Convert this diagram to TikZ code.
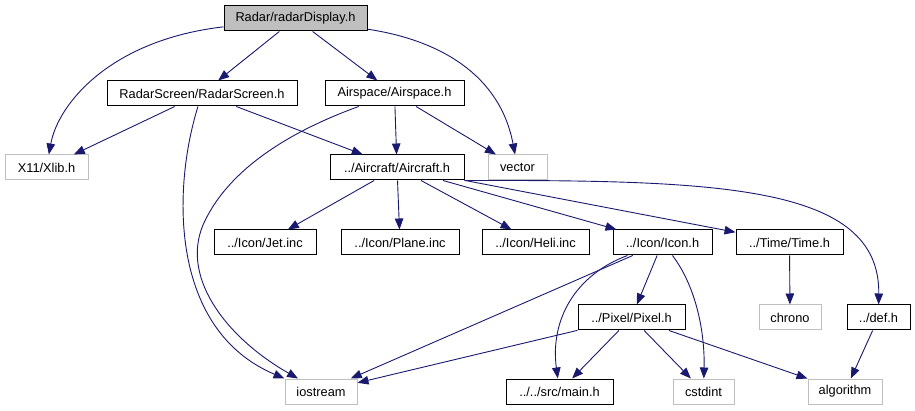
\documentclass[tikz,border=0pt]{standalone}
\usepackage{fontspec}
\setmainfont{Liberation Sans}
\usetikzlibrary{arrows.meta}
\definecolor{edgeblue}{RGB}{25,25,112}
\definecolor{extgray}{RGB}{191,191,191}
\definecolor{mainfill}{RGB}{191,191,191}
\tikzset{
  filebox/.style={draw=black, fill=white, line width=1pt, inner sep=0pt, minimum height=25pt, font=\fontsize{12.8}{15}\selectfont},
  extbox/.style={draw=extgray, fill=white, line width=1pt, inner sep=0pt, minimum height=25pt, font=\fontsize{12.8}{15}\selectfont},
  dep/.style={draw=edgeblue, line width=0.9pt, -{Triangle[length=11pt,width=8.5pt]}, fill=none}
}
\begin{document}
\begin{tikzpicture}[x=1pt,y=-1pt]
\useasboundingbox (0,0) rectangle (915,411);
% nodes
\node[filebox, fill=mainfill, minimum width=143pt] (rd) at (295.5,18.5) {Radar/radarDisplay.h};
\node[filebox, minimum width=190pt] (rs) at (202,93.5) {RadarScreen/RadarScreen.h};
\node[filebox, minimum width=139pt] (as) at (394.5,93.5) {Airspace/Airspace.h};
\node[extbox, minimum width=83pt] (xlib) at (46.5,167.5) {X11/Xlib.h};
\node[filebox, minimum width=134pt] (ac) at (397,167.5) {../Aircraft/Aircraft.h};
\node[extbox, minimum width=59pt] (vec) at (517.5,167.5) {vector};
\node[filebox, minimum width=102pt] (jet) at (265,242.5) {../Icon/Jet.inc};
\node[filebox, minimum width=118pt] (plane) at (400,242.5) {../Icon/Plane.inc};
\node[filebox, minimum width=107pt] (heli) at (535.5,242.5) {../Icon/Heli.inc};
\node[filebox, minimum width=99pt] (icon) at (662.5,242.5) {../Icon/Icon.h};
\node[filebox, minimum width=107pt] (time) at (789.5,242.5) {../Time/Time.h};
\node[filebox, minimum width=107pt] (pixel) at (631.5,317.5) {../Pixel/Pixel.h};
\node[extbox, minimum width=62pt] (chrono) at (790,317.5) {chrono};
\node[filebox, minimum width=63pt] (def) at (878.5,317.5) {../def.h};
\node[extbox, minimum width=72pt] (ios) at (321,391.5) {iostream};
\node[filebox, minimum width=107pt] (mainh) at (559.5,391.5) {../../src/main.h};
\node[extbox, minimum width=61pt] (cstd) at (703.5,391.5) {cstdint};
\node[extbox, minimum width=74pt] (alg) at (845,391.5) {algorithm};
% edges
\draw[dep] (rd) .. controls (110,40) and (58,104) .. (xlib);
\draw[dep] (rd) -- (rs);
\draw[dep] (rd) -- (as);
\draw[dep] (rd) .. controls (440,40) and (500,75) .. (vec);
\draw[dep] (rs) -- (xlib);
\draw[dep] (rs) -- (ac);
\draw[dep] (rs) .. controls (172,190) and (170,330) .. (ios.north west);
\draw[dep] (as) .. controls (280,135) and (225,175) .. (203,225) .. controls (180,280) and (230,340) .. (ios);
\draw[dep] (as) -- (ac);
\draw[dep] (as) -- (vec);
\draw[dep] (ac) -- (jet);
\draw[dep] (ac) -- (plane);
\draw[dep] (ac) -- (heli);
\draw[dep] (ac) -- (icon);
\draw[dep] (ac) -- (time);
\draw[dep] (ac.south east) .. controls (720,180) and (880,185) .. (def);
\draw[dep] (icon) -- (ios);
\draw[dep] (icon) .. controls (575,275) and (550,320) .. (mainh);
\draw[dep] (icon) -- (pixel);
\draw[dep] (icon) .. controls (695,285) and (705,330) .. (cstd);
\draw[dep] (time) -- (chrono);
\draw[dep] (def) -- (alg);
\draw[dep] (pixel) -- (ios);
\draw[dep] (pixel) -- (mainh);
\draw[dep] (pixel) -- (cstd);
\draw[dep] (pixel) -- (alg);
\end{tikzpicture}
\end{document}
